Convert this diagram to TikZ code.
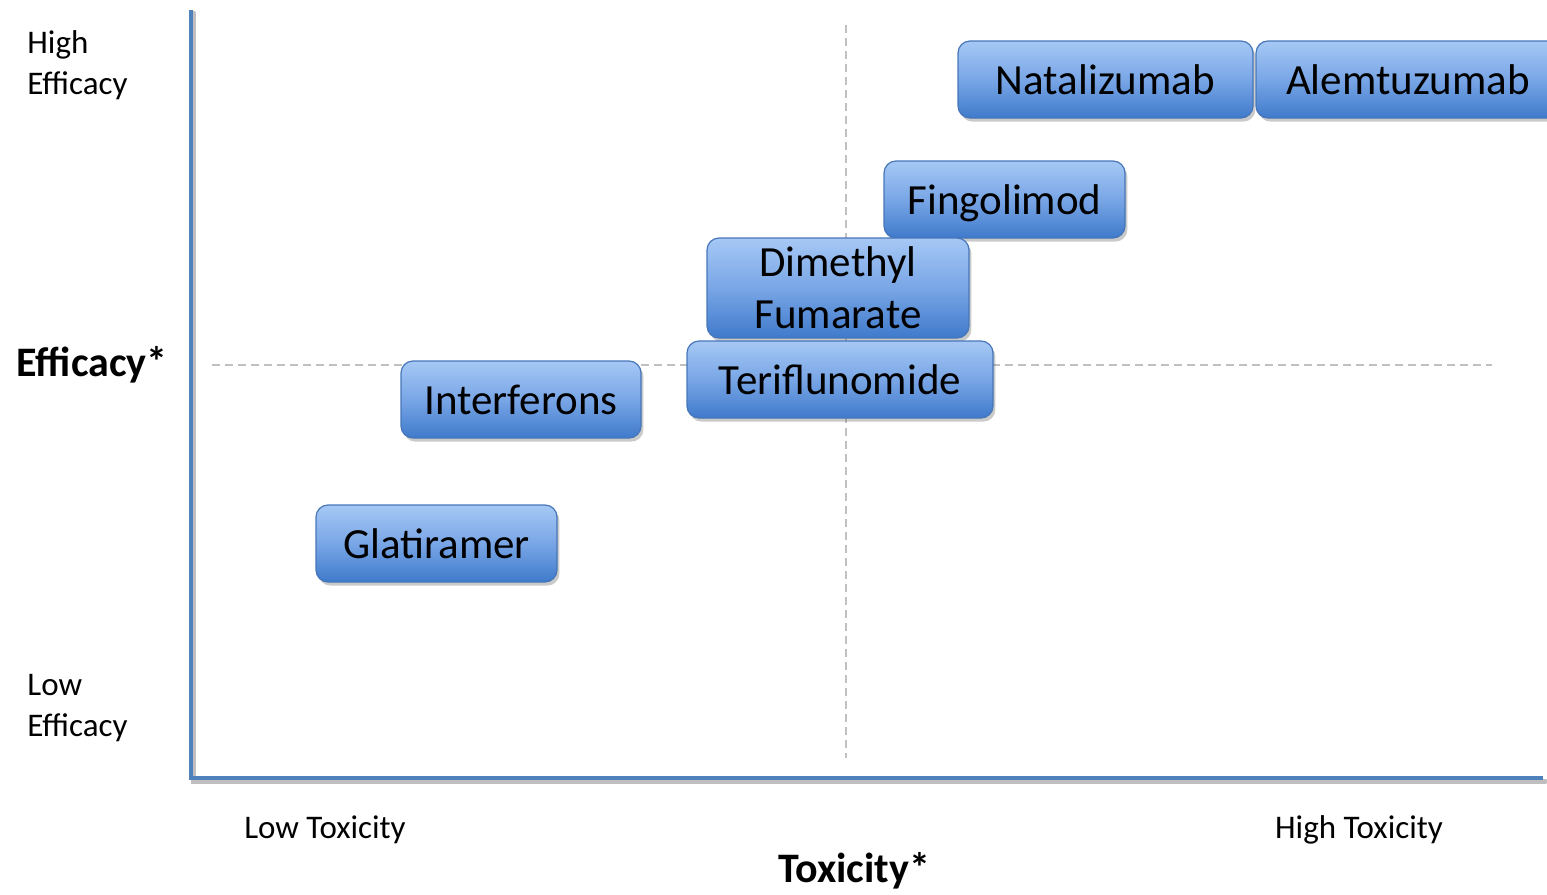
\documentclass[tikz,border=0pt]{standalone}
\usepackage{fontspec}
\setmainfont{Carlito}
\usetikzlibrary{shadows}
\definecolor{axisblue}{HTML}{4F81BD}
\definecolor{boxtop}{HTML}{A6C8F5}
\definecolor{boxmid}{HTML}{79A6E6}
\definecolor{boxbot}{HTML}{3F7ACB}
\definecolor{boxedge}{HTML}{4676B8}
\definecolor{dashgray}{HTML}{C0C0C0}
\tikzset{
  drug/.style={rectangle, rounded corners=6pt, draw=boxedge, line width=0.6pt,
    top color=boxtop, bottom color=boxbot, middle color=boxmid,
    inner sep=0pt, font=\fontsize{21.5}{26}\selectfont, text=black, align=center,
    drop shadow={shadow xshift=1.2pt, shadow yshift=-1.8pt, opacity=0.35, fill=black!60}},
  oneline/.style={text height=19.35pt, text depth=4.1pt},
  axlabel/.style={font=\fontsize{16.5}{20.5}\selectfont, text=black, inner sep=0pt},
  bigaxlabel/.style={font=\fontsize{21}{25}\selectfont\bfseries, text=black, inner sep=0pt},
  quad/.style={dashgray, line width=1pt, dash pattern=on 4pt off 2.5pt},
  axis/.style={axisblue, line width=2pt},
}
\begin{document}
\begin{tikzpicture}[x=0.5pt, y=-0.5pt]
\useasboundingbox (0,0) rectangle (1547,894);
\clip (0,0) rectangle (1547,894);
% quadrant lines
\coordinate (vt) at (846,25);
\coordinate (vb) at (846,758);
\coordinate (hl) at (212,365);
\coordinate (hr) at (1492,365);
\draw[quad] (vt) -- (vb);
\draw[quad] (hl) -- (hr);
% axes
\coordinate (ytop) at (191,10);
\coordinate (orig) at (191,778);
\coordinate (xend) at (1543,778);
\draw[black!25, line width=2.5pt, line cap=round] ([xshift=1.2pt,yshift=-1.6pt]ytop) -- ([xshift=1.2pt,yshift=-1.6pt]orig) -- ([xshift=1.2pt,yshift=-1.6pt]xend);
\draw[axis] (ytop) -- (orig) -- (xend);
% boxes
\node[drug, oneline, minimum width=147.5pt, minimum height=38.5pt] (nat) at (1105.5,79.5) {Natalizumab};
\node[drug, oneline, minimum width=152pt, minimum height=38.5pt] (alem) at (1408,79.5) {Alemtuzumab};
\node[drug, oneline, minimum width=120.5pt, minimum height=38.5pt] (fin) at (1004.5,199.5) {Fingolimod};
\node[drug, minimum width=131pt, minimum height=50pt] (dmf) at (838,288) {\raisebox{-1pt}{Dimethyl}\\\raisebox{-1pt}{Fumarate}};
\node[drug, oneline, minimum width=153pt, minimum height=38.5pt] (ter) at (840,379.5) {Teriflunomide};
\node[drug, oneline, minimum width=120pt, minimum height=38.5pt] (int) at (521,399.5) {Interferons};
\node[drug, oneline, minimum width=120.5pt, minimum height=38.5pt] (gla) at (436.5,543.5) {Glatiramer};
% labels
\node[axlabel, anchor=west, align=left] (he) at (27,65) {High\\Efficacy};
\node[axlabel, anchor=west, align=left] (le) at (27,708) {Low\\Efficacy};
\node[bigaxlabel] (eff) at (92,365) {Efficacy*};
\node[axlabel] (lt) at (325,830) {Low Toxicity};
\node[axlabel] (ht) at (1359,830) {High Toxicity};
\node[bigaxlabel] (tox) at (854,871) {Toxicity*};
\end{tikzpicture}
\end{document}
